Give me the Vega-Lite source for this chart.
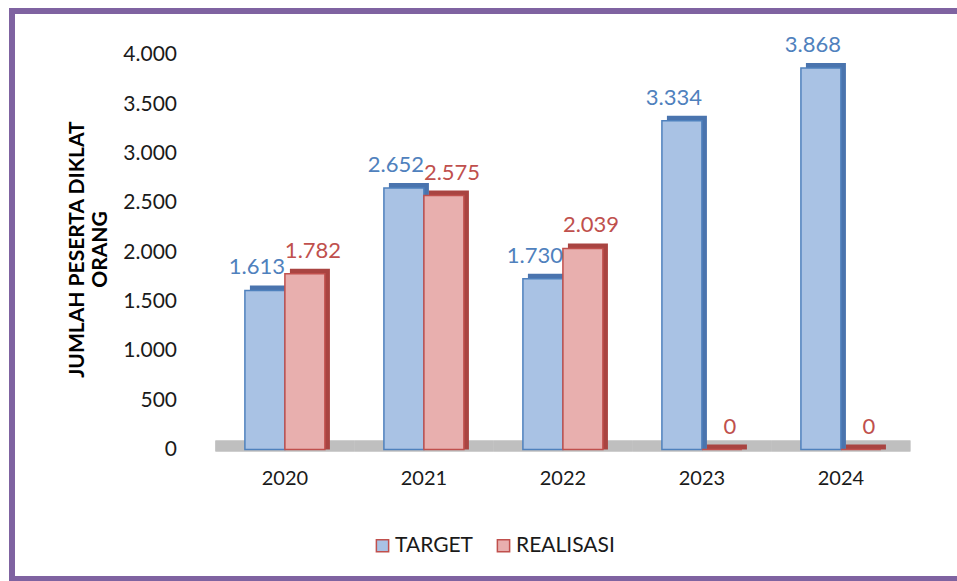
{
  "$schema": "https://vega.github.io/schema/vega-lite/v6.json",
  "autosize": "none",
  "width": 948,
  "height": 568,
  "padding": {"left": 12, "top": 11, "right": -3, "bottom": 2},
  "background": "white",
  "config": {
    "view": {"stroke": "#7F63A1", "strokeWidth": 6, "fill": "white"},
    "font": "Lato",
    "locale": {"number": {"decimal": ",", "thousands": ".", "grouping": [3], "currency": ["", ""]}}
  },
  "data": {
    "values": [
      {"year": "2020", "series": "TARGET", "value": 1613},
      {"year": "2020", "series": "REALISASI", "value": 1782},
      {"year": "2021", "series": "TARGET", "value": 2652},
      {"year": "2021", "series": "REALISASI", "value": 2575},
      {"year": "2022", "series": "TARGET", "value": 1730},
      {"year": "2022", "series": "REALISASI", "value": 2039},
      {"year": "2023", "series": "TARGET", "value": 3334},
      {"year": "2023", "series": "REALISASI", "value": 0},
      {"year": "2024", "series": "TARGET", "value": 3868},
      {"year": "2024", "series": "REALISASI", "value": 0}
    ]
  },
  "resolve": {"scale": {"xOffset": "independent"}},
  "encoding": {
    "x": {
      "field": "year", "type": "nominal",
      "scale": {"paddingInner": 0, "paddingOuter": 0.91, "align": 0.804},
      "axis": {
        "title": null, "orient": "bottom", "offset": -129.5,
        "domain": false, "ticks": false, "labelAngle": 0,
        "labelFontSize": 20, "labelColor": "#1a1a1a", "labelPadding": 19, "labelFont": "Lato"
      }
    },
    "y": {
      "field": "value", "type": "quantitative", "stack": null,
      "scale": {"domain": [-1313, 4446], "nice": false, "zero": false},
      "axis": {
        "values": [0, 500, 1000, 1500, 2000, 2500, 3000, 3500, 4000],
        "format": ",.0f", "offset": -203.5, "domain": false, "ticks": false, "grid": false,
        "labelFontSize": 21, "labelColor": "#1a1a1a", "labelPadding": 39, "labelFont": "Lato",
        "title": ["JUMLAH PESERTA DIKLAT", "ORANG"],
        "titleFont": "Lato", "titleFontSize": 21, "titleFontWeight": "bold", "titleColor": "#000000",
        "titleX": -138, "titleY": 238, "titleAngle": -90, "titleAlign": "center",
        "titleBaseline": "middle", "titleLineHeight": 22.5
      }
    }
  },
  "layer": [
    {
      "mark": {"type": "tick", "color": "#BFBFBF", "thickness": 11, "size": 139, "yOffset": -3.5, "opacity": 1},
      "encoding": {"y": {"datum": 0}}
    },
    {
      "mark": {"type": "bar", "yOffset": -5},
      "encoding": {
        "xOffset": {"field": "series", "type": "nominal", "sort": ["TARGET", "REALISASI"], "scale": {"paddingInner": 0, "paddingOuter": 0.7375, "align": 0.585}},
        "fill": {"condition": {"test": "datum.series === 'TARGET'", "value": "#4A74AE"}, "value": "#A94441"}
      }
    },
    {
      "mark": {"type": "bar", "strokeWidth": 1.5},
      "encoding": {
        "xOffset": {"field": "series", "type": "nominal", "sort": ["TARGET", "REALISASI"], "scale": {"paddingInner": 0, "paddingOuter": 0.7375}},
        "color": {
          "field": "series", "type": "nominal",
          "scale": {"domain": ["TARGET", "REALISASI"], "range": ["#A9C2E4", "#E8AFAE"]},
          "legend": {
            "title": null, "orient": "none", "direction": "horizontal",
            "legendX": 360, "legendY": 524, "symbolType": "square", "symbolSize": 150,
            "symbolStrokeWidth": 1.5, "labelFontSize": 21, "labelFont": "Lato", "labelColor": "#1a1a1a",
            "labelOffset": 2, "columnPadding": 19, "padding": 0
          }
        },
        "stroke": {"condition": {"test": "datum.series === 'TARGET'", "value": "#4F81BD"}, "value": "#C0504D"}
      }
    },
    {
      "mark": {"type": "text", "fontSize": 22, "font": "Lato", "baseline": "middle", "dy": -23},
      "encoding": {
        "xOffset": {"field": "series", "type": "nominal", "sort": ["TARGET", "REALISASI"], "scale": {"paddingInner": 0, "paddingOuter": 0.7375}},
        "text": {"field": "value", "type": "quantitative", "format": ",.0f"},
        "color": {"condition": {"test": "datum.series === 'TARGET'", "value": "#4F81BD"}, "value": "#C0504D"}
      }
    }
  ]
}
